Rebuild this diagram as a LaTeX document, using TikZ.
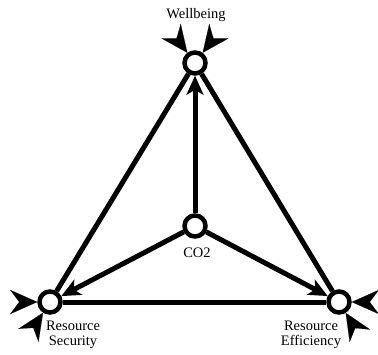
\documentclass[tikz,border=0pt]{standalone}
\usepackage{fontspec}
\setmainfont{Liberation Serif}
\usepackage{tikz}
\usetikzlibrary{arrows.meta,positioning}

\begin{document}
\begin{tikzpicture}[x=1pt, y=1pt, font=\fontsize{14.5}{15}\selectfont, >=Stealth,
  hub/.style={draw, circle, line width=4.5pt, fill=white,
    minimum size=21pt, inner sep=0pt},
  link/.style={line width=5pt},
  flow/.style={line width=5pt, -{Stealth[length=19pt, width=17pt, inset=5pt]}},
  stub/.style={line width=0.1pt, shorten <=9pt,
    -{Stealth[length=27pt, width=24pt, inset=9pt]}},
  lbl/.style={align=center, inner sep=0pt}]
\useasboundingbox (0,0) rectangle (378,354);
% ---- hubs ----
\node[hub] (wb) at (195,291) {};
\node[hub] (co) at (195,128) {};
\node[hub] (rs) at (50,52) {};
\node[hub] (re) at (339,52) {};

% ---- labels ----
\node[lbl] (wbl) at (196,339) {Wellbeing};
\node[lbl] (col) at (197,101) {CO2};
\node[lbl] (rsl) at (73,19.5) {Resource\\Security};
\node[lbl] (rel) at (311,19.5) {Resource\\Efficiency};

% ---- triangle ----
\draw[link] (wb) -- (rs);
\draw[link] (wb) -- (re);
\draw[link] (rs) -- (re);

% ---- CO2 flows ----
\draw[flow] (co) -- (wb);
\draw[flow] (co) -- (rs);
\draw[flow] (co) -- (re);

% ---- outside inputs ----
\coordinate (wbin1) at (171,323);
\coordinate (wbin2) at (219,323);
\coordinate (rsin1) at (10,52);
\coordinate (rsin2) at (28,18);
\coordinate (rein1) at (378,52);
\coordinate (rein2) at (360,18);
\draw[stub] (wbin1) -- (wb);
\draw[stub] (wbin2) -- (wb);
\draw[stub] (rsin1) -- (rs);
\draw[stub] (rsin2) -- (rs);
\draw[stub] (rein1) -- (re);
\draw[stub] (rein2) -- (re);
\end{tikzpicture}
\end{document}
